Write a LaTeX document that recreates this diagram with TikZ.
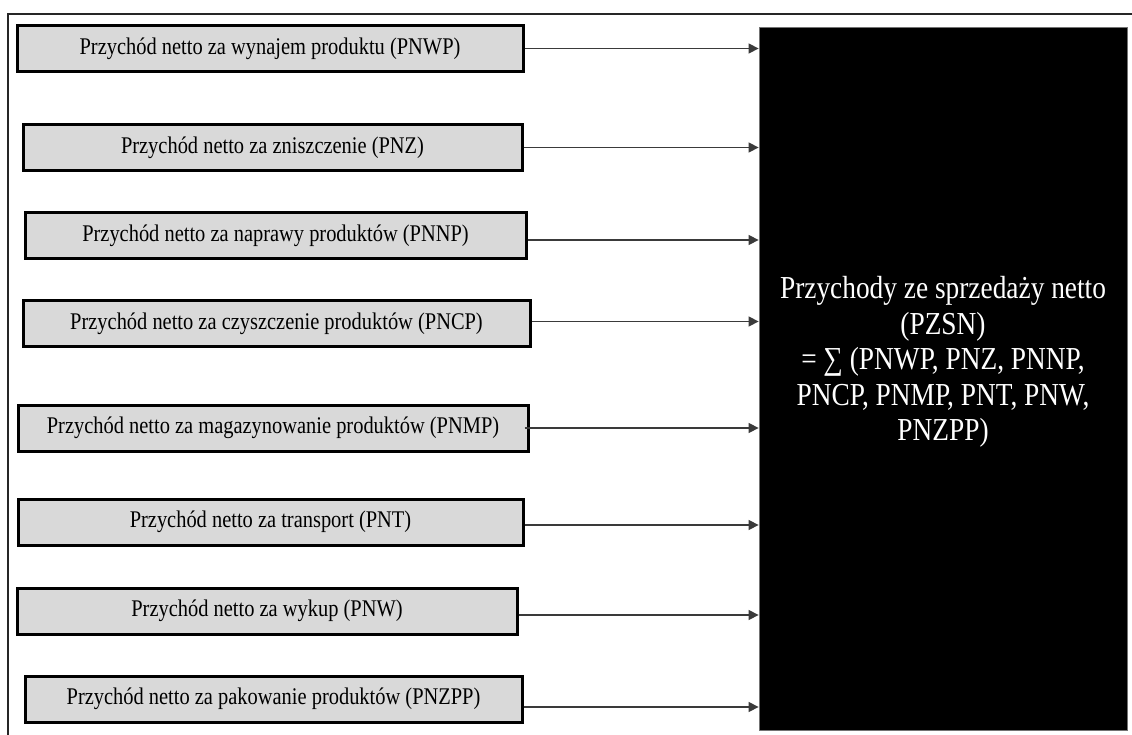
\documentclass[tikz,border=0pt]{standalone}
\usepackage{fontspec}
\setmainfont{Liberation Serif}
% a slightly condensed cut, so the letters stand taller for their width
\newfontfamily\tallserif[FakeStretch=0.855]{Liberation Serif}
\usetikzlibrary{arrows.meta}
\definecolor{boxgray}{HTML}{D9D9D9}
\definecolor{linkgray}{HTML}{3A3A3A}
\begin{document}
\begin{tikzpicture}[x=1pt,y=-1pt,
  inbox/.style={draw=black, line width=3pt, fill=boxgray, minimum height=46pt,
    inner sep=0pt, font=\tallserif\fontsize{23.9}{28}\selectfont},
  sumbox/.style={draw=black!55, line width=0.8pt, fill=black, inner sep=0pt},
  sumtext/.style={text=white, align=center, inner sep=0pt,
    font=\tallserif\fontsize{32}{35.5}\selectfont},
  link/.style={draw=linkgray, line width=1.3pt, -{Triangle[length=10pt,width=10pt]}},
  frameline/.style={draw=black!85, line width=1.6pt}]
\useasboundingbox (0,0) rectangle (1132,735);

% outer frame (top and left edges)
\draw[frameline] (8,735) -- (8,14) -- (1132,14);

% summary block
\node[sumbox, minimum width=368pt, minimum height=703pt] (sum) at (943,378.5) {};
\node[sumtext] (sumlbl) at (943,362) {Przychody ze sprzedaży netto\\(PZSN)\\= ∑ (PNWP, PNZ, PNNP,\\PNCP, PNMP, PNT, PNW,\\PNZPP)};

% revenue components
\node[inbox, minimum width=506pt] (b1) at (270,48.5)  {Przychód netto za wynajem produktu (PNWP)};
\node[inbox, minimum width=499pt] (b2) at (272.5,147.5) {Przychód netto za zniszczenie (PNZ)};
\node[inbox, minimum width=501pt] (b3) at (275.5,236) {Przychód netto za naprawy produktów (PNNP)};
\node[inbox, minimum width=507pt] (b4) at (276.5,323.5) {Przychód netto za czyszczenie produktów (PNCP)};
\node[inbox, minimum width=510pt] (b5) at (273,428)   {Przychód netto za magazynowanie produktów (PNMP)};
\node[inbox, minimum width=505pt] (b6) at (270.5,522) {Przychód netto za transport (PNT)};
\node[inbox, minimum width=500pt] (b7) at (267,611)   {Przychód netto za wykup (PNW)};
\node[inbox, minimum width=497pt] (b8) at (273.5,699) {Przychód netto za pakowanie produktów (PNZPP)};

% connectors into the summary block
\draw[link] (b1.east) -- (b1.east -| sum.west);
\draw[link] (b2.east) -- (b2.east -| sum.west);
\draw[link] ([yshift=-4pt]b3.east) -- ([yshift=-4pt]b3.east -| sum.west);
\draw[link] ([yshift=2pt]b4.east) -- ([yshift=2pt]b4.east -| sum.west);
\draw[link] ([xshift=-5pt]b5.east) -- (b5.east -| sum.west);
\draw[link] ([yshift=-3pt]b6.east) -- ([yshift=-3pt]b6.east -| sum.west);
\draw[link] ([yshift=-4pt]b7.east) -- ([yshift=-4pt]b7.east -| sum.west);
\draw[link] ([yshift=-8pt]b8.east) -- ([yshift=-8pt]b8.east -| sum.west);
\end{tikzpicture}
\end{document}
